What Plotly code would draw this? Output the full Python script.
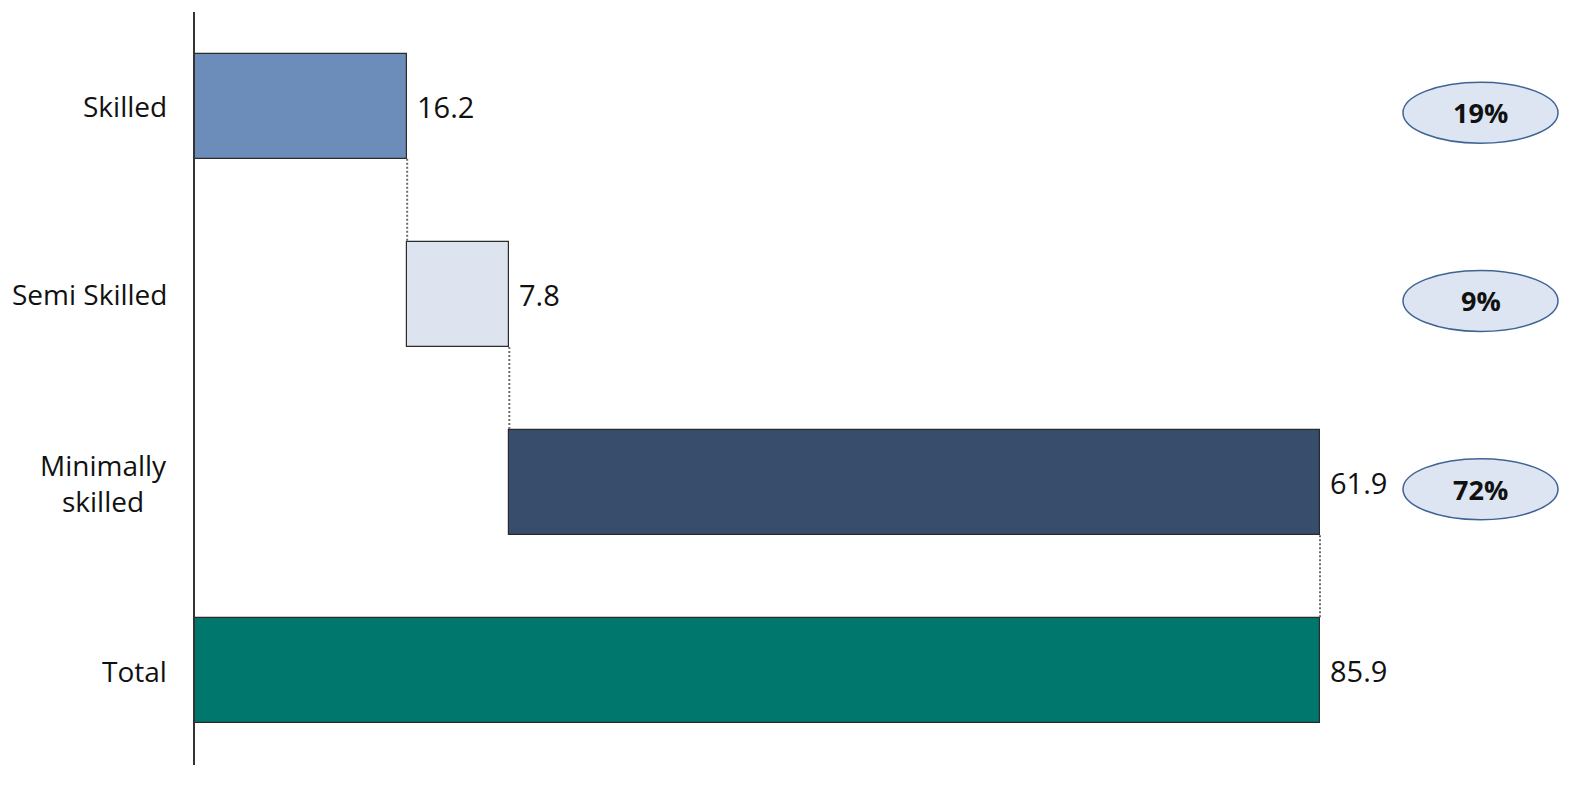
import plotly.graph_objects as go

categories = ["Skilled", "Semi Skilled", "Minimally<br>skilled", "Total"]
values = [16.2, 7.8, 61.9, 85.9]
is_total = [False, False, False, True]
colors = ["#6C8DBA", "#DDE4EF", "#384C6C", "#00776D"]
value_labels = ["16.2", "7.8", "61.9", "85.9"]
share_labels = ["19%", "9%", "72%"]

# bases for waterfall
bases = []
run = 0.0
for v, t in zip(values, is_total):
    if t:
        bases.append(0.0)
    else:
        bases.append(run)
        run += v
ends = [b + v for b, v in zip(bases, values)]
ypos = list(range(len(categories)))

W, H = 1587, 797
ml, mr, mt, mb = 195, 0, 12, 32
pw = W - ml - mr
px_per_unit = (1320 - 195) / 85.9
xmax = pw / px_per_unit
bw = 0.558

fig = go.Figure()
fig.add_trace(go.Bar(
    y=ypos, x=values, base=bases, orientation="h", width=bw,
    marker=dict(color=colors, line=dict(color="#2b2b2b", width=1.2)),
    hoverinfo="skip", showlegend=False,
))

# dotted connectors
for i in range(len(values) - 1):
    fig.add_trace(go.Scatter(
        x=[ends[i], ends[i]], y=[ypos[i] + bw / 2, ypos[i + 1] - bw / 2],
        mode="lines", line=dict(color="#6e6e6e", width=2, dash="2px,2px"),
        hoverinfo="skip", showlegend=False,
    ))

font = "Open Sans, sans-serif"
annotations = []
for i, c in enumerate(categories):
    annotations.append(dict(
        x=-(195 - 169) / pw, xref="paper", y=ypos[i], yref="y",
        text=c, showarrow=False, xanchor="right", align="center",
        font=dict(family=font, size=28, color="#111111"),
    ))
for i, t in enumerate(value_labels):
    annotations.append(dict(
        x=ends[i], xref="x", y=ypos[i], yref="y", text=t, showarrow=False,
        xanchor="left", xshift=8,
        font=dict(family=font, size=29, color="#111111"),
    ))

shapes = []
ex0 = (1403 - ml) / pw
ex1 = (1558 - ml) / pw
eh = 61 / (H - mt - mb) * 4 / 2
for i, s in enumerate(share_labels):
    yc = ypos[i] + 0.035
    shapes.append(dict(
        type="circle", xref="paper", yref="y", x0=ex0, x1=ex1,
        y0=yc - eh, y1=yc + eh,
        fillcolor="#DCE5F1", line=dict(color="#3F6494", width=1.5), layer="above",
    ))
    annotations.append(dict(
        x=(ex0 + ex1) / 2, xref="paper", y=yc, yref="y", text="<b>" + s + "</b>",
        showarrow=False, xanchor="center", yanchor="middle",
        font=dict(family=font, size=27, color="#111111"),
    ))

fig.update_layout(
    width=W, height=H,
    margin=dict(l=ml, r=mr, t=mt, b=mb),
    paper_bgcolor="white", plot_bgcolor="white",
    xaxis=dict(range=[0, xmax], visible=False, fixedrange=True),
    yaxis=dict(range=[3.5, -0.5], showticklabels=False, showgrid=False, zeroline=False,
               showline=True, linecolor="#333333", linewidth=1.5, ticks="", fixedrange=True),
    annotations=annotations, shapes=shapes, bargap=0,
)

fig.write_html(
    "out.html",
    config={"displayModeBar": False},
    post_script="document.body.style.margin='0';document.body.style.overflow='hidden';",
)
